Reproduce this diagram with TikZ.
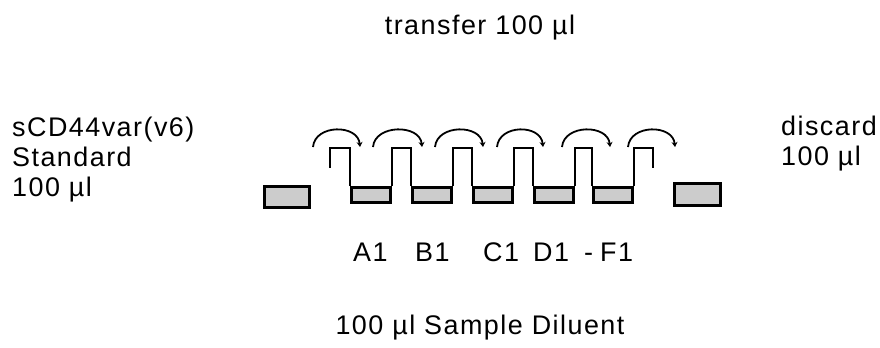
\documentclass[tikz,border=0pt]{standalone}
\usepackage{fontspec}
\setmainfont{Liberation Sans}[LetterSpace=5.5]
\usetikzlibrary{arrows.meta,calc}
\begin{document}
\begin{tikzpicture}[x=1bp,y=-1bp,
  lbl/.style={inner sep=0pt, font=\fontsize{27}{30}\selectfont},
  tube/.style={draw=black, line width=3bp, fill=black!20, inner sep=0pt},
  well/.style={tube, minimum width=39bp, minimum height=15bp},
  pip/.style={draw=black, line width=2bp},
  xfer/.style={draw=black, line width=1.8bp, -{Stealth[length=5bp,width=6bp]}},
]
\useasboundingbox (0,0) rectangle (880,347);
% standard and discard tubes
\node[tube, minimum width=45bp, minimum height=21bp] (std) at (287,197) {};
\node[tube, minimum width=46bp, minimum height=22bp] (dis) at (697.5,194.5) {};
% wells
\node[well] (w1) at (371,195) {};
\node[well] (w2) at (432,195) {};
\node[well] (w3) at (492.5,195) {};
\node[well] (w4) at (553.5,195) {};
\node[well] (w5) at (613,195) {};
% pipette profile
\draw[pip] (w1.north west) -- ++(0,-38) -- ++(-20,0) -- ++(0,20);
\draw[pip] (w1.north east) -- ++(0,-38) -| (w2.north west);
\draw[pip] (w2.north east) -- ++(0,-38) -| (w3.north west);
\draw[pip] (w3.north east) -- ++(0,-38) -| (w4.north west);
\draw[pip] (w4.north east) -- ++(0,-38) -| (w5.north west);
\draw[pip] (w5.north east) -- ++(0,-38) -- ++(19,0) -- ++(0,20);
% transfer arcs
\coordinate (a1) at (313,147); \coordinate (b1) at (360,147);
\coordinate (a2) at (373,147); \coordinate (b2) at (422,147);
\coordinate (a3) at (435,147); \coordinate (b3) at (483,147);
\coordinate (a4) at (497,147); \coordinate (b4) at (543,147);
\coordinate (a5) at (562,147); \coordinate (b5) at (610,147);
\coordinate (a6) at (628,147); \coordinate (b6) at (675,147);
\foreach \i in {1,...,6}{
  \draw[xfer] (a\i) .. controls ($(a\i)+(2,-23)$) and ($(b\i)+(-2,-23)$) .. (b\i);
}
% labels
\node[lbl, anchor=base] (tr) at (480,34) {transfer 100 µl};
\node[lbl, anchor=base west, align=left] (sl) at (12,196) {sCD44var(v6)\\Standard\\100 µl};
\node[lbl, anchor=base west, align=left] (dl) at (781,165) {discard\\100 µl};
\node[lbl, anchor=base west] (wl) at (353,261) {\makebox[62bp][l]{A1}\makebox[68bp][l]{B1}\makebox[50bp][l]{C1}\makebox[51bp][l]{D1}\makebox[16bp][l]{-}F1};
\node[lbl, anchor=base] (sd) at (480,334) {100 µl Sample Diluent};
\end{tikzpicture}
\end{document}
